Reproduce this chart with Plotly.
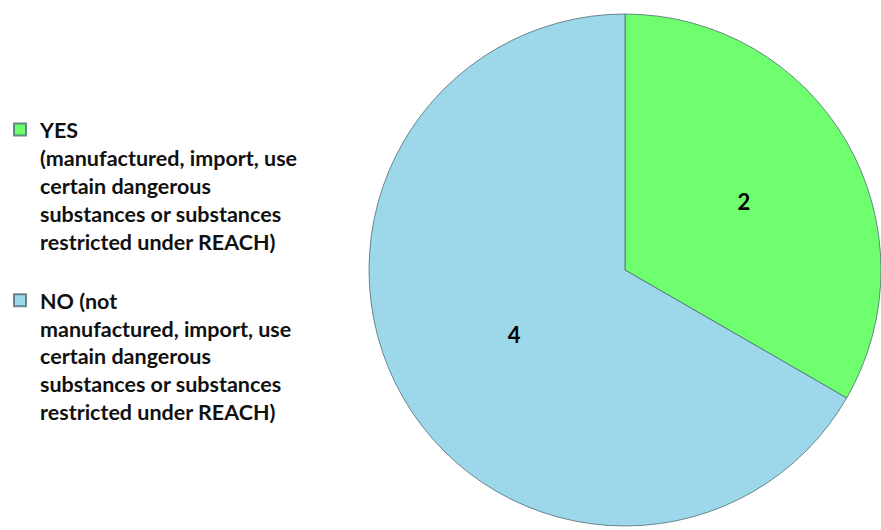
import plotly.graph_objects as go

# Survey answers and counts
labels = [
    "YES<br>(manufactured, import, use<br>certain dangerous<br>substances or substances<br>restricted under REACH)<br> ",
    "NO (not<br>manufactured, import, use<br>certain dangerous<br>substances or substances<br>restricted under REACH)",
]
counts = [2, 4]
colors = ["#6efe6e", "#9dd8ea"]

W, H = 881, 530

fig = go.Figure(
    go.Pie(
        labels=labels,
        values=counts,
        sort=False,
        direction="clockwise",
        rotation=0,
        marker=dict(colors=colors, line=dict(color="rgba(70,100,110,0.75)", width=1)),
        textinfo="value",
        textposition="inside",
        insidetextorientation="horizontal",
        textfont=dict(family="Lato", size=22, color="black", weight="bold"),
        domain=dict(x=[369 / W, 1.0], y=[0 / H, 1 - 10 / H]),
        hoverinfo="label+value",
    )
)

fig.update_layout(
    width=W,
    height=H,
    margin=dict(l=0, r=0, t=0, b=0),
    paper_bgcolor="white",
    plot_bgcolor="white",
    showlegend=True,
    legend=dict(
        x=0.0,
        y=1 - 109 / H,
        xanchor="left",
        yanchor="top",
        valign="top",
        font=dict(family="Lato", size=21.5, color="#111111", weight="bold"),
        itemsizing="constant",
    ),
)

fig.write_html("out.html")
